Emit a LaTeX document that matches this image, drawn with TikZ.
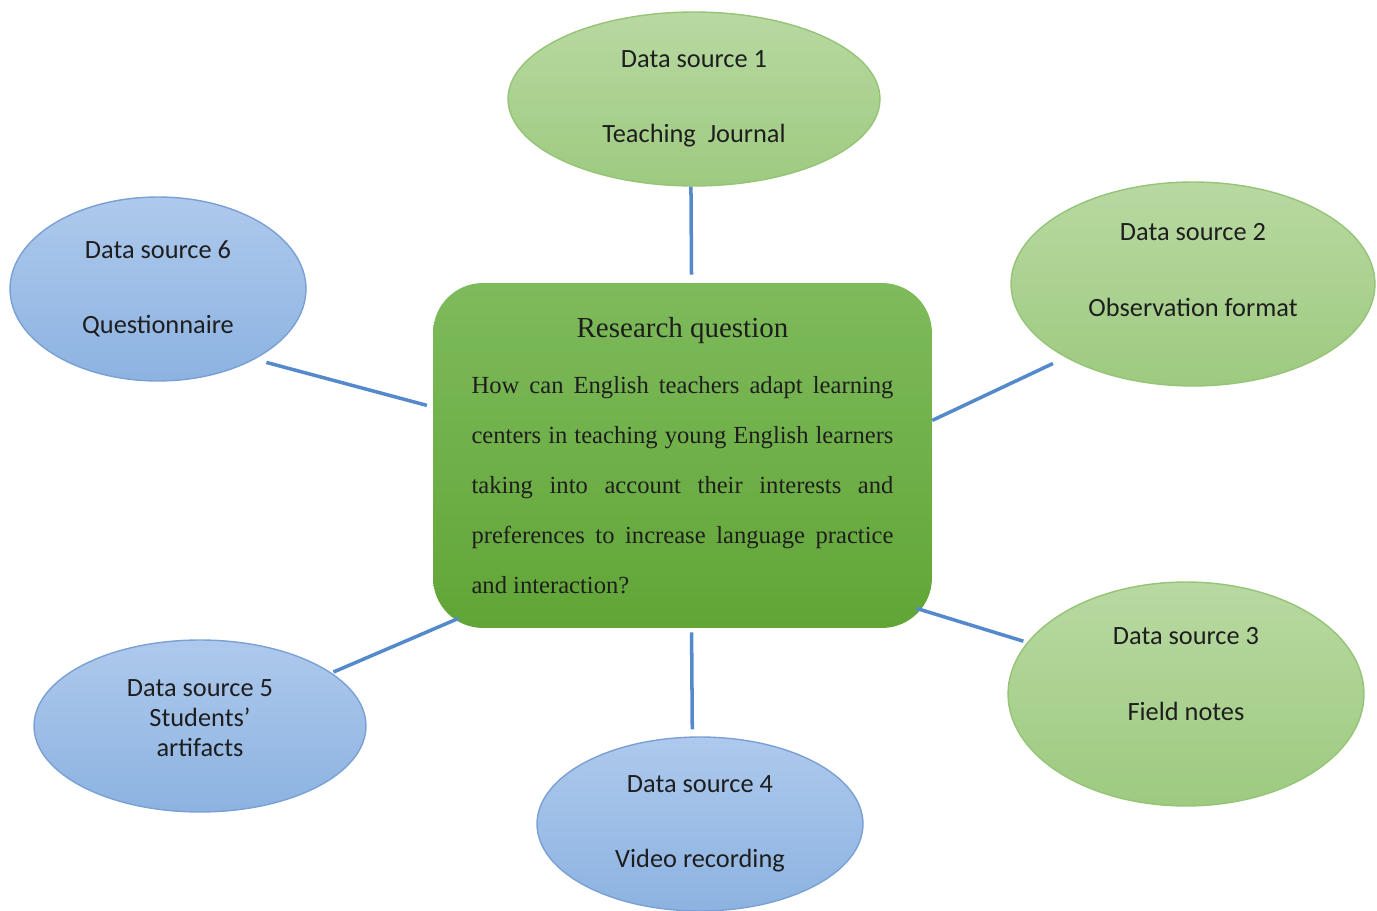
\documentclass[tikz,border=0pt]{standalone}
\usepackage{xcolor}
\usepackage{fontspec}
\usepackage{tikz}
\usetikzlibrary{shapes, calc, positioning}
\setmainfont{Liberation Serif}
\newfontfamily\calibri{Carlito}
\definecolor{greentop}{RGB}{184,217,162}
\definecolor{greenbot}{RGB}{158,202,128}
\definecolor{greenline}{RGB}{150,196,118}
\definecolor{bluetop}{RGB}{174,201,236}
\definecolor{bluebot}{RGB}{140,179,225}
\definecolor{blueline}{RGB}{122,160,212}
\definecolor{rqtop}{RGB}{126,187,92}
\definecolor{rqbot}{RGB}{97,165,54}
\definecolor{linkblue}{RGB}{84,138,204}
\definecolor{textgray}{RGB}{30,30,30}

\begin{document}
\begin{tikzpicture}[x=0.02cm, y=-0.02cm,
	datasrc/.style={ellipse, draw=#1line, top color=#1top, bottom color=#1bot, line width=0.8pt, inner sep=0pt, align=center, text=textgray, font=\calibri\fontsize{15}{18}\selectfont},
	rqbox/.style={rectangle, rounded corners=1cm, top color=rqtop, bottom color=rqbot, draw=none, inner sep=0pt, text=textgray},
	link/.style={draw=linkblue, line width=2pt}]
	\useasboundingbox (0,0) rectangle (1377,911);
	
	% research question
	\node[rqbox, minimum width=9.98cm, minimum height=6.9cm, text width=8.44cm, align=justify] (rq) at (682.5,455.5) {%
		{\centering\fontsize{16.5}{20}\selectfont Research question\par}
		\vspace{3.5pt}
		\noindent\fontsize{14}{28.5}\selectfont
		How can English teachers adapt learning\linebreak
		centers in teaching young English learners\linebreak
		taking into account their interests and\linebreak
		preferences to increase language practice\linebreak
		and interaction?\par};
	
	% data sources
	\node[datasrc=green, minimum width=7.44cm, minimum height=3.48cm] (ds1) at (694,99) {Data source 1\\[25pt]Teaching~ Journal};
	\node[datasrc=green, minimum width=7.28cm, minimum height=4.08cm, text depth=16pt] (ds2) at (1193,284) {Data source 2\\[25pt]Observation format};
	\node[datasrc=green, minimum width=7.12cm, minimum height=4.48cm, text depth=23pt] (ds3) at (1186,694) {Data source 3\\[25pt]Field notes};
	\node[datasrc=blue, minimum width=6.52cm, minimum height=3.48cm] (ds4) at (700,824) {Data source 4\\[25pt]Video recording};
	\node[datasrc=blue, minimum width=6.64cm, minimum height=3.44cm, text depth=9pt, font=\calibri\fontsize{15}{17}\selectfont] (ds5) at (200,726) {Data source 5\\Students’\\artifacts};
	\node[datasrc=blue, minimum width=5.92cm, minimum height=3.68cm] (ds6) at (158,289) {Data source 6\\[25pt]Questionnaire};
	
	% links
	\draw[link, shorten >=0.16cm] (ds1.-92) -- (rq.87);
	\draw[link, shorten <=0.28cm] (ds2.-150.6) -- (rq.8.5);
	\draw[link, shorten <=0.08cm] (ds3.162) -- ($(rq.south east)+(-16,-20)$);
	\draw[link, shorten <=0.08cm, shorten >=0.14cm] (rq.-87) -- (ds4.95);
	\draw[link, shorten <=0.04cm] (ds5.22) -- ($(rq.south west)+(26,-10)$);
	\draw[link, shorten <=0.24cm, shorten >=0.12cm] (ds6.-36.5) -- (rq.169);
\end{tikzpicture}
\end{document}
